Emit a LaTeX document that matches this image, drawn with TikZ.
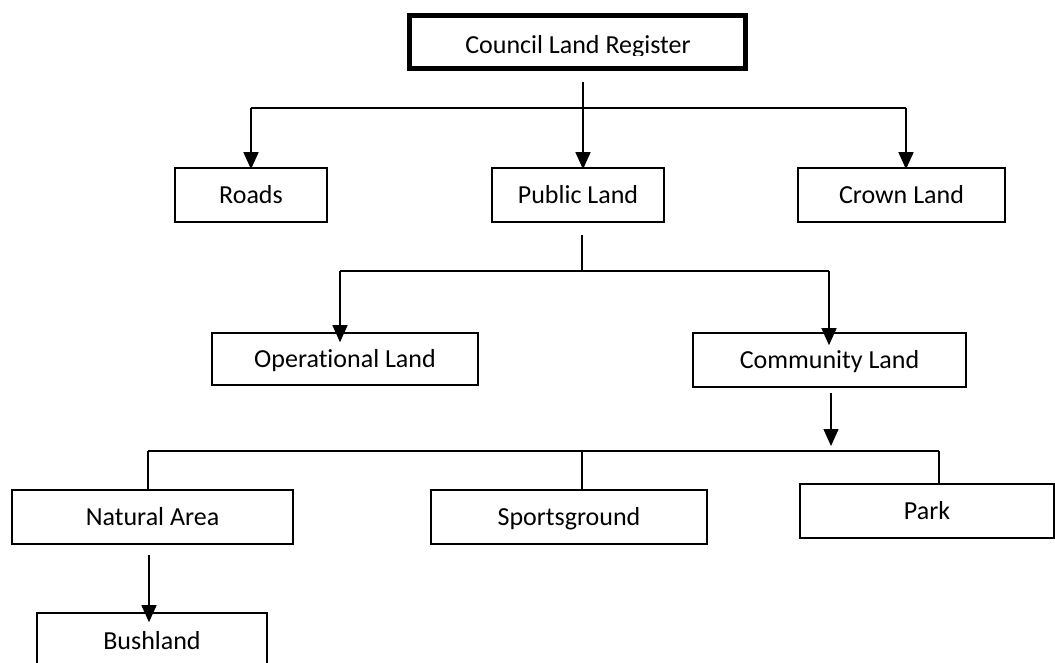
\documentclass[tikz,border=0pt]{standalone}
\usepackage{fontspec}
\setmainfont{Carlito}[Ligatures=NoCommon]
\usetikzlibrary{arrows.meta}
\begin{document}
\begin{tikzpicture}[x=1pt,y=-1pt,
  box/.style={draw, line width=1.6pt, inner sep=0pt, font=\fontsize{26}{31}\selectfont,
    text height=16pt, text depth=0pt, align=center},
  conn/.style={line width=1.3pt},
  arr/.style={line width=1.3pt, -{Triangle[width=15pt,length=17pt]}}]
\useasboundingbox (0,0) rectangle (1055,662);
% top box
\node[draw, line width=5pt, minimum width=336pt, minimum height=53pt, inner sep=0pt] (clr) at (577.5,42) {};
\begin{scope}
\clip (400,0) rectangle (760,55.5);
\node[anchor=base, inner sep=0pt, font=\fontsize{26}{31}\selectfont] (clrtext) at (578,53) {Council Land Register};
\end{scope}
% level 1
\node[box, minimum width=152pt, minimum height=54pt] (roads) at (251,195) {Roads};
\node[box, minimum width=172pt, minimum height=54pt] (public) at (578,195) {Public Land};
\node[box, minimum width=207pt, minimum height=54pt] (crown) at (901.5,195) {Crown Land};
% level 2
\node[box, minimum width=266pt, minimum height=52pt] (oper) at (345,359) {Operational Land};
\node[box, minimum width=273pt, minimum height=54pt] (comm) at (829.5,360) {Community Land};
% level 3
\node[box, minimum width=281pt, minimum height=54pt] (natural) at (152.5,517) {Natural Area};
\node[box, minimum width=276pt, minimum height=54pt] (sports) at (569,517) {Sportsground};
\node[box, minimum width=254pt, minimum height=54pt] (park) at (927,511) {Park};
% level 4
\node[box, minimum width=230pt, minimum height=56pt] (bush) at (152,641) {Bushland};
% connectors from council
\coordinate (t1) at (583,82);
\coordinate (h1l) at (251,108);
\coordinate (h1r) at (906,108);
\draw[arr] (t1) -- ([yshift=-2pt]t1 |- public.north);
\draw[conn] (h1l) -- (h1r);
\draw[arr] (h1l) -- ([yshift=-2pt]h1l |- roads.north);
\draw[arr] (h1r) -- ([yshift=-2pt]h1r |- crown.north);
% connectors from public land
\coordinate (t2) at (582,235);
\coordinate (h2l) at (340,271);
\coordinate (h2r) at (829,271);
\draw[conn] (t2) -- (t2 |- h2l);
\draw[conn] (h2l) -- (h2r);
\draw[arr] (h2l) -- ([yshift=-10pt]h2l |- oper.north);
\draw[arr] (h2r) -- ([yshift=-13pt]h2r |- comm.north);
% connectors from community land
\coordinate (t3) at (831,393);
\coordinate (t3e) at (831,446);
\coordinate (h3l) at (148,451);
\coordinate (h3r) at (939,451);
\coordinate (h3m) at (582,451);
\draw[arr] (t3) -- (t3e);
\draw[conn] (h3l) -- (h3r);
\draw[conn] (h3l) -- (h3l |- natural.north);
\draw[conn] (h3m) -- (h3m |- sports.north);
\draw[conn] (h3r) -- (h3r |- park.north);
% natural area to bushland
\coordinate (t4) at (149,555);
\draw[arr] (t4) -- ([yshift=-10pt]t4 |- bush.north);
\end{tikzpicture}
\end{document}
